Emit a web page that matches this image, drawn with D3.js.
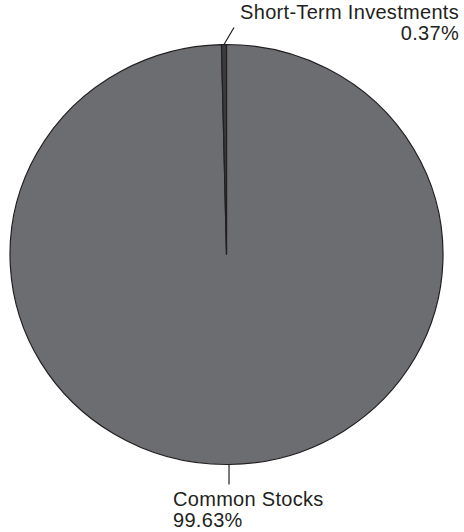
<!DOCTYPE html>
<html>
<head>
<meta charset="utf-8">
<script src="https://cdn.jsdelivr.net/npm/d3@7"></script>
<style>
  body { margin: 0; background: #fff; }
</style>
</head>
<body>
<div class="canvas"></div>
<script>
// data
var categories = ["Common Stocks", "Short-Term Investments"];
var values = [99.63, 0.37];
var valueLabels = ["99.63%", "0.37%"];
var colors = ["#6c6d71", "#3b3b3d"];

var width = 464, height = 532;
var cx = 226.5, cy = 254.5, rx = 216.5, ry = 210;

var svg = d3.select(".canvas")
    .append("svg")
    .attr("width", width)
    .attr("height", height);

var data = categories.map(function(c, i) { return {name: c, value: values[i], label: valueLabels[i], color: colors[i]}; });

var pie = d3.pie().sort(null).value(d => d.value);
var arcs = pie(data);
var arc = d3.arc().innerRadius(0).outerRadius(rx);

var g = svg.append("g")
    .attr("transform", `translate(${cx},${cy}) scale(1,${ry / rx})`);

g.selectAll("path")
  .data(arcs)
  .enter()
  .append("path")
    .attr("d", arc)
    .attr("fill", d => d.data.color)
    .attr("stroke", "#231f20")
    .attr("stroke-width", 1.2)
    .attr("vector-effect", "non-scaling-stroke");

// point on the rim at the middle of each slice
function rim(d) {
  var a = (d.startAngle + d.endAngle) / 2;
  return [cx + rx * Math.sin(a), cy - ry * Math.cos(a)];
}

// leader lines + labels
var labelPos = [
  {end: [0, 20], x: 173, y: 506, anchor: "start"},   // Common Stocks
  {end: [10, -17], x: 459, y: 19, anchor: "end"}     // Short-Term
];

arcs.forEach(function(d, i) {
  var p = rim(d), lp = labelPos[i];
  svg.append("line")
    .attr("x1", p[0]).attr("y1", p[1])
    .attr("x2", p[0] + lp.end[0]).attr("y2", p[1] + lp.end[1])
    .attr("stroke", "#231f20")
    .attr("stroke-width", 1.2);

  var t = svg.append("text")
    .attr("x", lp.x)
    .attr("y", lp.y)
    .attr("text-anchor", lp.anchor)
    .style("font-family", "'Liberation Sans', Arial, sans-serif")
    .style("font-size", "20px")
    .style("letter-spacing", "0.3px")
    .style("fill", "#231f20");
  t.append("tspan").attr("x", lp.x).text(d.data.name);
  t.append("tspan").attr("x", lp.x).attr("dy", 21).text(d.data.label);
});
</script>
</body>
</html>
